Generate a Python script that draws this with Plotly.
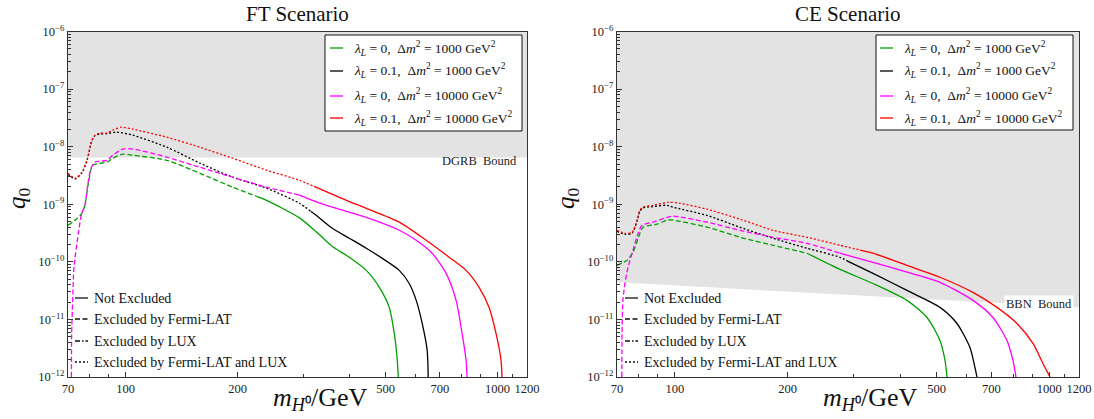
import math
import plotly.graph_objects as go

W, H = 1094, 419

# ---------------- data ----------------
x_range = [70, 1200]
y_range = [1e-12, 1e-6]

x_major = [70, 100, 200, 500, 700, 1000, 1200]
x_major_text = ["70", "100", "200", "500", "700", "1000", "1200"]
x_minor = [80, 90, 300, 400, 600, 800, 900, 1100]
y_major = [1e-12, 1e-11, 1e-10, 1e-9, 1e-8, 1e-7, 1e-6]
y_major_text = ["10<sup>−12</sup>", "10<sup>−11</sup>", "10<sup>−10</sup>", "10<sup>−9</sup>",
                "10<sup>−8</sup>", "10<sup>−7</sup>", "10<sup>−6</sup>"]
y_minor = [k * 10.0 ** e for e in range(-12, -6) for k in range(2, 10)]

# bounds
dgrb_m = [70, 1200]
dgrb_q = [6.5e-9, 6.5e-9]
bbn_m = [70, 1200]
bbn_q = [4.4e-11, 1.62e-11]

# FT scenario
ft_green_m = [70, 73.9, 76.2, 77.7, 79.2, 80.7, 81.7, 89.1, 92.4, 98.3, 104.6, 129, 158.2, 193.9, 225,
              239.4, 293.4, 325.9, 359.6, 399.4, 443.7, 481, 511.5, 527.6, 537.5, 540.8]
ft_green_q = [4.3e-10, 5.6e-10, 6.9e-10, 9.6e-10, 2.1e-9, 4.0e-9, 4.8e-9, 5.4e-9, 6.3e-9, 7.4e-9, 7.1e-9,
              5.8e-9, 3.46e-9, 1.98e-9, 1.37e-9, 1.17e-9, 5.8e-10, 3.3e-10, 1.85e-10, 1.2e-10, 7.1e-11,
              3.6e-11, 1.62e-11, 5.7e-12, 1.94e-12, 1e-12]
ft_black_m = [70, 73.1, 76.3, 78.7, 81.2, 82.7, 85.3, 89.1, 94.7, 104.6, 129, 158.2, 193.9, 239.4, 293.4,
              315, 325.9, 359.6, 399.4, 443.7, 489.9, 544.2, 578.8, 604.4, 627.2, 646.8, 650.9]
ft_black_q = [3.3e-9, 2.75e-9, 3.5e-9, 5.7e-9, 1.28e-8, 1.55e-8, 1.66e-8, 1.68e-8, 1.79e-8, 1.58e-8, 9.8e-9,
              5.2e-9, 2.95e-9, 1.9e-9, 1.04e-9, 7.5e-10, 6.4e-10, 3.83e-10, 2.57e-10, 1.72e-10, 1.15e-10,
              7.1e-11, 4.2e-11, 2.14e-11, 8.5e-12, 2.9e-12, 1e-12]
ft_magenta_m = [71.5, 71.6, 72.06, 72.65, 74.6, 76.2, 77.7, 79.2, 80.7, 82.7, 89.1, 92.4, 98.3, 104.6, 129,
                158.2, 193.9, 239.4, 293.4, 317.9, 359.6, 443.7, 544.2, 604.4, 667.1, 727.3, 773.6, 802.9,
                823, 828.1]
ft_magenta_q = [1e-12, 5.6e-12, 2.14e-11, 8.1e-11, 3.09e-10, 6.9e-10, 9.6e-10, 2.3e-9, 4.2e-9, 5.4e-9, 5.8e-9,
                7.1e-9, 9.1e-9, 9.1e-9, 6.6e-9, 4.4e-9, 2.95e-9, 1.98e-9, 1.44e-9, 1.17e-9, 8.9e-10, 5.9e-10,
                3.53e-10, 2.37e-10, 1.41e-10, 6.3e-11, 2.14e-11, 5.7e-12, 1.94e-12, 1e-12]
ft_red_m = [70, 73.1, 76.3, 78.7, 81.2, 82.7, 85.3, 89.1, 92.4, 97.7, 104.6, 129, 158.2, 193.9, 239.4, 293.4,
            321, 392.2, 443.7, 544.2, 642.9, 741, 823, 892, 948.6, 990.6, 1021.7, 1028]
ft_red_q = [3.46e-9, 2.83e-9, 3.6e-9, 5.8e-9, 1.3e-8, 1.58e-8, 1.72e-8, 1.72e-8, 1.94e-8, 2.18e-8, 2.01e-8,
            1.46e-8, 9.8e-9, 6.3e-9, 3.9e-9, 2.61e-9, 2.04e-9, 1.17e-9, 8.5e-10, 4.9e-10, 2.37e-10, 1.2e-10,
            7.1e-11, 3.6e-11, 1.62e-11, 5.7e-12, 1.94e-12, 1e-12]
# mass where each FT curve becomes "Not Excluded"
ft_switch = {"green": 225, "black": 315, "magenta": 293.4, "red": 321}

# CE scenario
ce_green_m = [70, 74.4, 77.2, 80.6, 82.1, 89.5, 95.2, 98.8, 121.8, 149.2, 182.7, 225.2, 275.9, 338, 416.6,
              471.1, 510.3, 526.3, 532.8]
ce_green_q = [8.7e-11, 1.06e-10, 1.46e-10, 3.13e-10, 4.0e-10, 4.5e-10, 5.3e-10, 5.3e-10, 4.0e-10, 2.67e-10,
              1.94e-10, 1.41e-10, 7.4e-11, 4.2e-11, 2.14e-11, 1.08e-11, 4.3e-12, 1.94e-12, 1e-12]
ce_black_m = [70, 73.5, 76.8, 79.2, 80.6, 82.1, 87.3, 95.2, 98.8, 121.8, 149.2, 182.7, 225.2, 275.9, 290, 338,
              416.6, 510.3, 566.5, 613.7, 632.9, 640.7]
ce_black_q = [3.4e-10, 3.0e-10, 3.15e-10, 5.1e-10, 7.6e-10, 8.6e-10, 9.1e-10, 9.6e-10, 8.9e-10, 6.4e-10,
              3.98e-10, 2.57e-10, 1.72e-10, 1.2e-10, 1.02e-10, 6.3e-11, 3.19e-11, 1.62e-11, 8.5e-12, 3.26e-12,
              1.46e-12, 1e-12]
ce_magenta_m = [72.1, 72.2, 72.6, 73.5, 74.9, 77.2, 79.7, 81.6, 87.3, 95.2, 98.8, 121.8, 149.2, 182.7, 225.2,
                275.9, 338, 416.6, 510.3, 625.1, 706.9, 770.5, 799.4, 814.3]
ce_magenta_q = [1e-12, 5.7e-12, 2.14e-11, 4.2e-11, 8.0e-11, 1.58e-10, 3.13e-10, 4.3e-10, 4.9e-10, 5.9e-10,
                6.2e-10, 4.9e-10, 3.53e-10, 2.67e-10, 2.1e-10, 1.41e-10, 9.8e-11, 6.6e-11, 4.4e-11, 2.14e-11,
                1.08e-11, 4.3e-12, 1.94e-12, 1e-12]
ce_red_m = [70, 73.5, 76.8, 79.2, 80.6, 82.1, 87.3, 95.8, 103.1, 121.8, 149.2, 182.7, 225.2, 275.9, 312, 338,
            416.6, 510.3, 625.1, 724.5, 819.4, 904.1, 961.3, 1003.7]
ce_red_q = [3.53e-10, 3.13e-10, 3.26e-10, 5.3e-10, 7.9e-10, 8.9e-10, 9.6e-10, 1.08e-9, 1.04e-9, 8.2e-10,
            5.5e-10, 3.53e-10, 2.67e-10, 1.94e-10, 1.6e-10, 1.41e-10, 8.7e-11, 5.4e-11, 2.95e-11, 1.62e-11,
            8.5e-12, 3.83e-12, 1.72e-12, 1e-12]
ce_switch = {"green": 225.2, "black": 290, "magenta": 275.9, "red": 312}

legend_labels = [
    "<i>λ</i><sub><i>L</i></sub> = 0,\u2002Δ<i>m</i><sup>2</sup> = 1000 GeV<sup>2</sup>",
    "<i>λ</i><sub><i>L</i></sub> = 0.1,\u2002Δ<i>m</i><sup>2</sup> = 1000 GeV<sup>2</sup>",
    "<i>λ</i><sub><i>L</i></sub> = 0,\u2002Δ<i>m</i><sup>2</sup> = 10000 GeV<sup>2</sup>",
    "<i>λ</i><sub><i>L</i></sub> = 0.1,\u2002Δ<i>m</i><sup>2</sup> = 10000 GeV<sup>2</sup>",
]
style_labels = ["Not Excluded", "Excluded by Fermi-LAT", "Excluded by LUX", "Excluded by Fermi-LAT and LUX"]

# ---------------- styles ----------------
FONT = "Liberation Serif"
COLORS = {"green": "#00a000", "black": "#000000", "magenta": "#ff00ff", "red": "#ff0000"}
DASH = {"solid": "solid", "dashed": "5px,2.5px", "dotdash": "5px,2px,1.5px,2px", "dotted": "2px,2px"}
LW = 1.3
FILL = "#e3e3e3"
AXC = "#333333"

def px(x):
    return x / W

def py(y):
    return 1 - y / H

fig = go.Figure()

def add_curve(m, q, switch, color, first_style, xa, ya):
    seg1_m = [a for a in m if a <= switch]
    seg1_q = q[:len(seg1_m)]
    k = len(seg1_m) - 1
    seg2_m, seg2_q = m[k:], q[k:]
    fig.add_trace(go.Scatter(x=seg1_m, y=seg1_q, mode="lines", xaxis=xa, yaxis=ya, showlegend=False,
                             line=dict(color=color, width=LW, dash=DASH[first_style], shape="spline",
                                       smoothing=0.7), hoverinfo="skip"))
    fig.add_trace(go.Scatter(x=seg2_m, y=seg2_q, mode="lines", xaxis=xa, yaxis=ya, showlegend=False,
                             line=dict(color=color, width=LW, dash="solid", shape="spline", smoothing=0.7),
                             hoverinfo="skip"))

# bound regions
fig.add_trace(go.Scatter(x=dgrb_m + dgrb_m[::-1], y=dgrb_q + [y_range[1]] * 2, fill="toself",
                         fillcolor=FILL, line=dict(width=0), mode="lines", xaxis="x", yaxis="y",
                         showlegend=False, hoverinfo="skip"))
fig.add_trace(go.Scatter(x=bbn_m + bbn_m[::-1], y=bbn_q + [y_range[1]] * 2, fill="toself",
                         fillcolor=FILL, line=dict(width=0), mode="lines", xaxis="x2", yaxis="y2",
                         showlegend=False, hoverinfo="skip"))

ft = [("green", ft_green_m, ft_green_q, "dashed"), ("black", ft_black_m, ft_black_q, "dotted"),
      ("magenta", ft_magenta_m, ft_magenta_q, "dashed"), ("red", ft_red_m, ft_red_q, "dotted")]
ce = [("green", ce_green_m, ce_green_q, "dashed"), ("black", ce_black_m, ce_black_q, "dotted"),
      ("magenta", ce_magenta_m, ce_magenta_q, "dashed"), ("red", ce_red_m, ce_red_q, "dotted")]
for name, m, q, st in ft:
    add_curve(m, q, ft_switch[name], COLORS[name], st, "x", "y")
for name, m, q, st in ce:
    add_curve(m, q, ce_switch[name], COLORS[name], st, "x2", "y2")

# ---------------- axes ----------------
plot_boxes = [(68, 527), (617, 1079)]
top_px, bot_px = 31.5, 377

def xaxis_cfg(dom):
    return dict(type="log", range=[math.log10(x_range[0]), math.log10(x_range[1])],
                domain=[px(dom[0]), px(dom[1])], showline=True, linecolor=AXC, linewidth=1.3, mirror=True,
                ticks="inside", ticklen=5, tickcolor=AXC, tickwidth=1, tickvals=x_major, ticktext=x_major_text,
                tickfont=dict(family=FONT, size=12.5, color="#222"), showgrid=False, zeroline=False,
                automargin=False,
                minor=dict(tickvals=x_minor, ticks="inside", ticklen=3, tickcolor=AXC, showgrid=False))

def yaxis_cfg(anchor):
    return dict(type="log", range=[-12, -6], domain=[py(bot_px), py(top_px)], anchor=anchor,
                showline=True, linecolor=AXC, linewidth=1.3, mirror=True, automargin=False,
                ticks="inside", ticklen=5, tickcolor=AXC, tickwidth=1, tickvals=y_major, ticktext=y_major_text,
                tickfont=dict(family=FONT, size=12.5, color="#222"), showgrid=False, zeroline=False,
                minor=dict(tickvals=y_minor, ticks="inside", ticklen=2.5, tickcolor=AXC, showgrid=False))

fig.update_layout(
    width=W, height=H, margin=dict(l=0, r=0, t=0, b=0, pad=0), autosize=False,
    paper_bgcolor="white", plot_bgcolor="white", showlegend=False,
    font=dict(family=FONT, color="#111"),
    xaxis=dict(xaxis_cfg(plot_boxes[0]), anchor="y"),
    yaxis=yaxis_cfg("x"),
    xaxis2=dict(xaxis_cfg(plot_boxes[1]), anchor="y2"),
    yaxis2=yaxis_cfg("x2"),
)

ann = []
shapes = []

# titles and axis labels
for (l, r), title, xt_c in [(plot_boxes[0], "FT Scenario", 320), (plot_boxes[1], "CE Scenario", 870)]:
    ann.append(dict(x=px((l + r) / 2), y=py(14), xref="paper", yref="paper", text=title, showarrow=False,
                    font=dict(family=FONT, size=21, color="#111"), xanchor="center", yanchor="middle"))
    ann.append(dict(x=px(xt_c), y=py(399), xref="paper", yref="paper",
                    text="<i>m</i><sub><i>H</i>⁰</sub>/GeV", showarrow=False,
                    font=dict(family=FONT, size=26, color="#111"), xanchor="center", yanchor="middle"))
    ann.append(dict(x=px(l - 50), y=py(198), xref="paper", yref="paper", text="<i>q</i><sub>0</sub>",
                    showarrow=False, textangle=-90, font=dict(family=FONT, size=25, color="#111"),
                    xanchor="center", yanchor="middle"))

# bound labels
ann.append(dict(x=px(519), y=py(161), xref="paper", yref="paper", text="DGRB\u2002Bound", showarrow=False,
                font=dict(family=FONT, size=12.5, color="#222"), xanchor="right", yanchor="middle"))
ann.append(dict(x=px(1074), y=py(304), xref="paper", yref="paper", text="BBN\u2002Bound", showarrow=False,
                font=dict(family=FONT, size=12.5, color="#222"), xanchor="right", yanchor="middle",
                bgcolor="white", borderpad=1))

# parameter legends (top right)
legend_rows = [48, 71, 96, 118]
for box, samp_x, text_x in [((325, 35, 522, 131), 330, 352), ((876, 35, 1073, 130), 880, 902)]:
    shapes.append(dict(type="rect", xref="paper", yref="paper", x0=px(box[0]), x1=px(box[2]),
                       y0=py(box[1]), y1=py(box[3]), line=dict(color="#111", width=1), fillcolor="white"))
    for yrow, name, lab in zip(legend_rows, ["green", "black", "magenta", "red"], legend_labels):
        shapes.append(dict(type="line", xref="paper", yref="paper", x0=px(samp_x), x1=px(samp_x + 13),
                           y0=py(yrow), y1=py(yrow), line=dict(color=COLORS[name], width=1.3)))
        ann.append(dict(x=px(text_x), y=py(yrow), xref="paper", yref="paper", text=lab, showarrow=False,
                        font=dict(family=FONT, size=13.5, color="#111"), xanchor="left", yanchor="middle"))

# line-style legends (bottom left)
style_rows = [298, 319, 341, 362]
for samp_x, text_x in [(75, 92), (625, 642)]:
    for yrow, st, lab in zip(style_rows, ["solid", "dashed", "dotdash", "dotted"], style_labels):
        shapes.append(dict(type="line", xref="paper", yref="paper", x0=px(samp_x), x1=px(samp_x + 13),
                           y0=py(yrow), y1=py(yrow), line=dict(color="#111", width=1.3, dash=DASH[st])))
        ann.append(dict(x=px(text_x), y=py(yrow), xref="paper", yref="paper", text=lab, showarrow=False,
                        font=dict(family=FONT, size=14, color="#111"), xanchor="left", yanchor="middle"))

fig.update_layout(annotations=ann, shapes=shapes)
fig.write_html(
    "out.html",
    config={"responsive": False, "displayModeBar": False},
    post_script="document.body.style.margin='0';document.body.style.padding='0';"
                "document.documentElement.style.overflow='hidden';document.body.style.overflow='hidden';",
)
